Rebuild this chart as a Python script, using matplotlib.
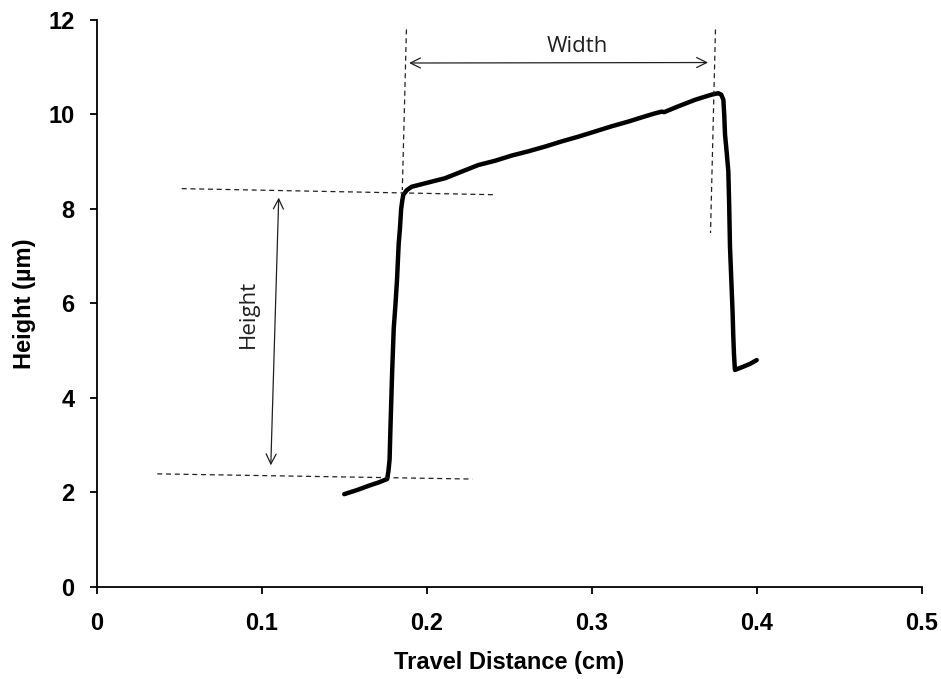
import matplotlib
matplotlib.use("Agg")
from matplotlib import pyplot as plt

# profile trace
travel_cm = [0.150, 0.158, 0.165, 0.171, 0.176, 0.1768, 0.1775, 0.178, 0.179, 0.180,
             0.181, 0.182, 0.183, 0.1838, 0.1845, 0.1852, 0.1858, 0.1880, 0.1909,
             0.2010, 0.2111, 0.2212, 0.2313, 0.2414, 0.2515, 0.2616, 0.2717, 0.2818,
             0.2919, 0.3020, 0.3121, 0.3222, 0.3323, 0.3380, 0.3424, 0.3440, 0.3460,
             0.3530, 0.3626, 0.3680, 0.3727, 0.3767, 0.3785, 0.3798, 0.3803, 0.3808,
             0.3818, 0.3828, 0.3833, 0.3838, 0.3846, 0.3854, 0.3858, 0.3862, 0.3866,
             0.3868, 0.3890, 0.3919, 0.3960, 0.4000]
height_um = [1.96, 2.05, 2.14, 2.21, 2.28, 2.45, 2.70, 3.34, 4.50, 5.47,
             5.95, 6.50, 7.26, 7.60, 8.00, 8.18, 8.30, 8.40, 8.47,
             8.56, 8.65, 8.79, 8.93, 9.02, 9.13, 9.22, 9.32, 9.43,
             9.53, 9.64, 9.75, 9.85, 9.96, 10.02, 10.06, 10.05, 10.08,
             10.18, 10.31, 10.37, 10.42, 10.45, 10.42, 10.31, 10.00, 9.57,
             9.20, 8.79, 8.10, 7.20, 6.50, 5.79, 5.30, 4.94, 4.70,
             4.59, 4.62, 4.66, 4.72, 4.80]

x_ticks = [0, 0.1, 0.2, 0.3, 0.4, 0.5]
x_tick_labels = ["0", "0.1", "0.2", "0.3", "0.4", "0.5"]
y_ticks = [0, 2, 4, 6, 8, 10, 12]

fig = plt.figure(figsize=(9.41, 6.79), dpi=100)
ax = fig.add_axes([0.1028, 0.1359, 0.8767, 0.8346])

ax.plot(travel_cm, height_um, color="black", lw=3.2, solid_joinstyle="round", solid_capstyle="round")

ax.set_xlim(0, 0.5)
ax.set_ylim(0, 12)
ax.set_xticks(x_ticks)
ax.set_xticklabels(x_tick_labels)
ax.set_yticks(y_ticks)

for s in ["top", "right"]:
    ax.spines[s].set_visible(False)
for s in ["left", "bottom"]:
    ax.spines[s].set_linewidth(1.3)
ax.tick_params(direction="out", length=5, width=1.3)
ax.tick_params(axis="x", pad=13)
ax.tick_params(axis="y", pad=11)
for lab in ax.get_xticklabels() + ax.get_yticklabels():
    lab.set_fontfamily("Liberation Sans")
    lab.set_fontweight("bold")
    lab.set_fontsize(17)

ax.set_xlabel("Travel Distance (cm)", fontfamily="Liberation Sans", fontweight="bold", fontsize=17, labelpad=12)
ax.set_ylabel("Height (µm)", fontfamily="Liberation Sans", fontweight="bold", fontsize=17, labelpad=9)

# guide lines
dash = dict(color="#202020", lw=0.9, ls=(0, (4, 3)))
ax.plot([0.0515, 0.2424], [8.43, 8.30], **dash)
ax.plot([0.0367, 0.2277], [2.39, 2.28], **dash)
ax.plot([0.1877, 0.1852], [11.80, 8.40], **dash)
ax.plot([0.3750, 0.3720], [11.80, 7.49], **dash)

arrow = dict(arrowstyle="<->", color="#202020", lw=0.9, shrinkA=0, shrinkB=0, mutation_scale=18)
ax.annotate("", xy=(0.1893, 11.09), xytext=(0.3705, 11.10), arrowprops=arrow)
ax.annotate("", xy=(0.1103, 8.24), xytext=(0.1055, 2.57), arrowprops=arrow)

ax.text(0.291, 11.44, "Width", ha="center", va="center", fontsize=16, fontfamily="Open Sans", color="#202020")
ax.text(0.092, 5.77, "Height", ha="center", va="center", rotation=90, fontsize=16, fontfamily="Open Sans", color="#202020")

fig.savefig("out.png", dpi=100)
